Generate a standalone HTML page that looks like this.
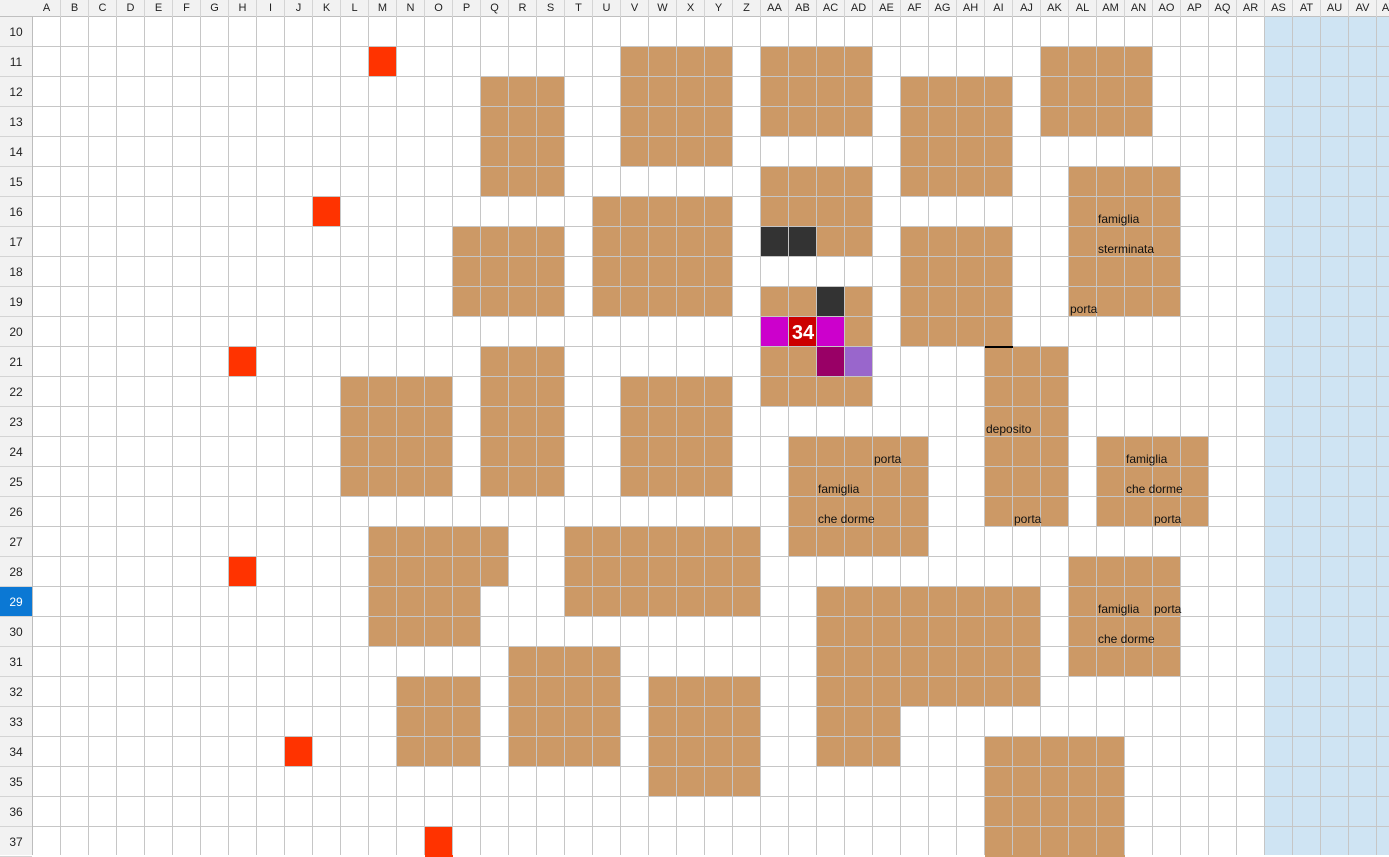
<!DOCTYPE html>
<html><head><meta charset="utf-8">
<style>
html,body{margin:0;padding:0;}
body{width:1389px;height:855px;position:relative;overflow:hidden;background:#fff;font-family:"Liberation Sans",sans-serif;}
.b{position:absolute;}
#grid{position:absolute;left:33px;top:17px;width:1356px;height:838px;
background-image:linear-gradient(to right,transparent 27px,#c6c6c6 27px),linear-gradient(to bottom,transparent 29px,#c6c6c6 29px);
background-size:28px 30px;z-index:2;}
#colh{position:absolute;left:0;top:0;width:1389px;height:17px;background:#f2f2f2;border-bottom:1px solid #c0c0c0;box-sizing:border-box;z-index:3;}
#colh span{position:absolute;top:0;width:28px;text-align:center;font-size:11px;line-height:17px;color:#222;border-right:1px solid #d4d4d4;box-sizing:border-box;height:17px;}
#rowh{position:absolute;left:0;top:17px;width:33px;height:838px;background:#f2f2f2;border-right:1px solid #bdbdbd;box-sizing:border-box;z-index:3;}
#rowh span{position:absolute;left:0;width:32px;height:30px;text-align:center;font-size:12px;line-height:30px;color:#222;border-bottom:1px solid #d4d4d4;box-sizing:border-box;}
#rowh span.sel{background:#0b78d4;color:#fff;}
.t{position:absolute;font-size:12px;color:#111;z-index:4;white-space:nowrap;line-height:14px;}
</style></head><body>
<div class="b" style="left:1265px;top:17px;width:124px;height:838px;background:#cfe4f3;"></div>
<div id="blocks"></div>
<div id="grid"></div>
<div class="b" style="left:985px;top:346px;width:28px;height:2px;background:#000;z-index:3;"></div>
<div class="t" style="left:790px;top:321px;width:26px;text-align:center;font-size:20px;font-weight:bold;color:#fff;line-height:24px;">34</div>

<div class="t" style="left:1098px;top:212px;">famiglia</div>
<div class="t" style="left:1098px;top:242px;">sterminata</div>
<div class="t" style="left:1070px;top:302px;">porta</div>
<div class="t" style="left:986px;top:422px;">deposito</div>
<div class="t" style="left:1014px;top:512px;">porta</div>
<div class="t" style="left:874px;top:452px;">porta</div>
<div class="t" style="left:818px;top:482px;">famiglia</div>
<div class="t" style="left:818px;top:512px;">che dorme</div>
<div class="t" style="left:1126px;top:452px;">famiglia</div>
<div class="t" style="left:1126px;top:482px;">che dorme</div>
<div class="t" style="left:1154px;top:512px;">porta</div>
<div class="t" style="left:1098px;top:602px;">famiglia</div>
<div class="t" style="left:1154px;top:602px;">porta</div>
<div class="t" style="left:1098px;top:632px;">che dorme</div>

<div id="colh">
<span style="left:33px">A</span><span style="left:61px">B</span><span style="left:89px">C</span><span style="left:117px">D</span><span style="left:145px">E</span><span style="left:173px">F</span><span style="left:201px">G</span><span style="left:229px">H</span><span style="left:257px">I</span><span style="left:285px">J</span><span style="left:313px">K</span><span style="left:341px">L</span><span style="left:369px">M</span><span style="left:397px">N</span><span style="left:425px">O</span><span style="left:453px">P</span><span style="left:481px">Q</span><span style="left:509px">R</span><span style="left:537px">S</span><span style="left:565px">T</span><span style="left:593px">U</span><span style="left:621px">V</span><span style="left:649px">W</span><span style="left:677px">X</span><span style="left:705px">Y</span><span style="left:733px">Z</span><span style="left:761px">AA</span><span style="left:789px">AB</span><span style="left:817px">AC</span><span style="left:845px">AD</span><span style="left:873px">AE</span><span style="left:901px">AF</span><span style="left:929px">AG</span><span style="left:957px">AH</span><span style="left:985px">AI</span><span style="left:1013px">AJ</span><span style="left:1041px">AK</span><span style="left:1069px">AL</span><span style="left:1097px">AM</span><span style="left:1125px">AN</span><span style="left:1153px">AO</span><span style="left:1181px">AP</span><span style="left:1209px">AQ</span><span style="left:1237px">AR</span><span style="left:1265px">AS</span><span style="left:1293px">AT</span><span style="left:1321px">AU</span><span style="left:1349px">AV</span><span style="left:1377px">AW</span>
</div>
<div id="rowh">
<span style="top:0px">10</span><span style="top:30px">11</span><span style="top:60px">12</span><span style="top:90px">13</span><span style="top:120px">14</span><span style="top:150px">15</span><span style="top:180px">16</span><span style="top:210px">17</span><span style="top:240px">18</span><span style="top:270px">19</span><span style="top:300px">20</span><span style="top:330px">21</span><span style="top:360px">22</span><span style="top:390px">23</span><span style="top:420px">24</span><span style="top:450px">25</span><span style="top:480px">26</span><span style="top:510px">27</span><span style="top:540px">28</span><span class="sel" style="top:570px">29</span><span style="top:600px">30</span><span style="top:630px">31</span><span style="top:660px">32</span><span style="top:690px">33</span><span style="top:720px">34</span><span style="top:750px">35</span><span style="top:780px">36</span><span style="top:810px">37</span>
</div>
<script>
var BR="#cc9966",RD="#ff3300",DK="#333333";
var L=[
[16,18,12,15,BR],[21,24,11,14,BR],[26,29,11,13,BR],[36,39,11,13,BR],
[31,34,12,15,BR],[31,34,17,20,BR],[26,29,15,16,BR],[28,29,17,17,BR],[26,27,17,17,DK],
[26,27,19,19,BR],[28,28,19,19,DK],[29,29,19,19,BR],
[26,26,20,20,"#cc00cc"],[27,27,20,20,"#cc0000"],[28,28,20,20,"#cc00cc"],[29,29,20,20,BR],
[26,27,21,21,BR],[28,28,21,21,"#990066"],[29,29,21,21,"#9966cc"],[26,29,22,22,BR],
[37,40,15,19,BR],[15,18,17,19,BR],[20,24,16,19,BR],[11,14,22,25,BR],[16,18,21,25,BR],
[21,24,22,25,BR],[34,36,21,26,BR],[27,31,24,27,BR],[38,41,24,26,BR],[12,16,27,28,BR],
[12,15,29,30,BR],[19,25,27,29,BR],[37,40,28,31,BR],[28,35,29,32,BR],[28,30,33,34,BR],
[17,20,31,34,BR],[13,15,32,34,BR],[22,25,32,35,BR],[34,38,34,37,BR],
[12,12,11,11,RD],[10,10,16,16,RD],[7,7,21,21,RD],[7,7,28,28,RD],[9,9,34,34,RD],[14,14,37,37,RD]
];
var h="";
L.forEach(function(a){h+='<div class="b" style="left:'+(33+28*a[0])+'px;top:'+(17+30*(a[2]-10))+'px;width:'+(28*(a[1]-a[0]+1))+'px;height:'+(30*(a[3]-a[2]+1))+'px;background:'+a[4]+'"></div>';});
document.getElementById("blocks").innerHTML=h;
</script>
</body></html>
